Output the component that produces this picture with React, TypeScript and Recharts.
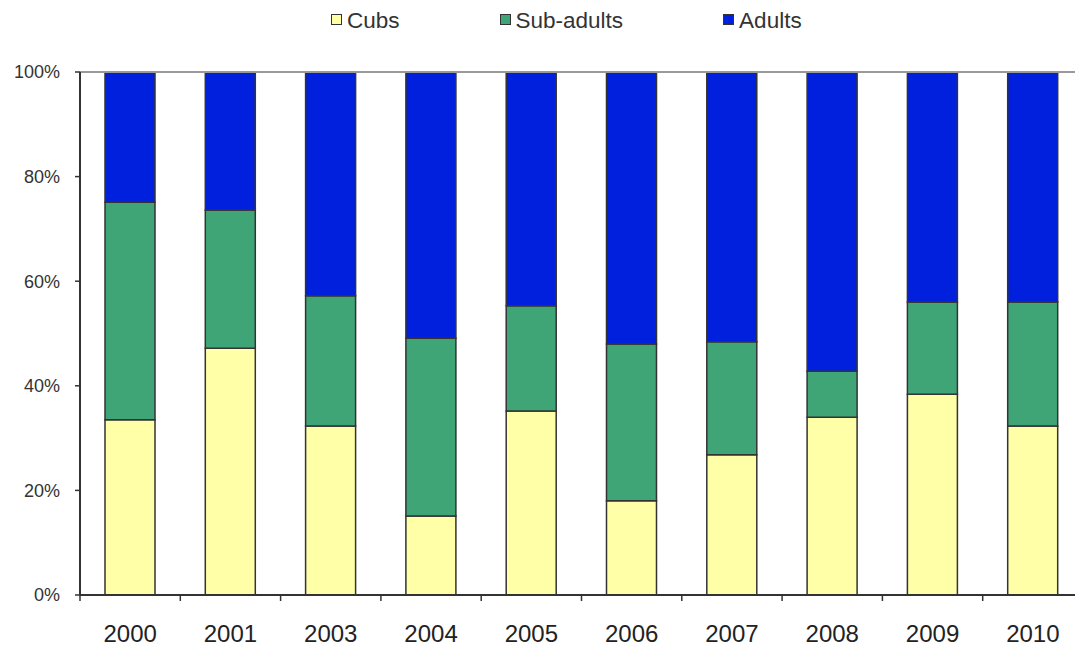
import { Bar, BarChart, ReferenceLine, XAxis, YAxis } from "recharts";

const years = ["2000", "2001", "2003", "2004", "2005", "2006", "2007", "2008", "2009", "2010"];
const cubs = [33.5, 47.2, 32.3, 15.1, 35.2, 18.0, 26.8, 34.0, 38.4, 32.3];
const subAdults = [41.6, 26.4, 24.9, 34.0, 20.1, 30.0, 21.6, 8.8, 17.6, 23.7];
const adults = [24.9, 26.4, 42.8, 50.9, 44.7, 52.0, 51.6, 57.2, 44.0, 44.0];
const yTicks = [0, 0.2, 0.4, 0.6, 0.8, 1];

const series = [
  { key: "cubs", name: "Cubs", color: "#FFFFA8" },
  { key: "subAdults", name: "Sub-adults", color: "#3FA577" },
  { key: "adults", name: "Adults", color: "#0020DD" },
];

const data = years.map((year, i) => ({
  year,
  cubs: cubs[i],
  subAdults: subAdults[i],
  adults: adults[i],
}));

const font = "'Liberation Sans', Arial, sans-serif";

// category label plus a tick mark on the left edge of its band
function YearTick(props: any) {
  const { x, y, payload } = props;
  const edge = x - (payload.offset ?? 0);
  return (
    <g>
      <line x1={edge} x2={edge} y1={y} y2={y + 6} stroke="#333" strokeWidth={1.5} />
      <text
        x={x}
        y={y + 30}
        dy="0.71em"
        textAnchor="middle"
        fontSize={24}
        fill="#222"
        fontFamily={font}
      >
        {payload.value}
      </text>
    </g>
  );
}

export default function App() {
  return (
    <div
      style={{
        position: "fixed",
        left: 0,
        top: 0,
        width: 1075,
        height: 647,
        overflow: "hidden",
        background: "#fff",
        fontFamily: font,
      }}
    >
      <div
        style={{
          position: "absolute",
          top: 8,
          left: 331,
          display: "flex",
          gap: 100,
          fontSize: 22.5,
          color: "#333",
        }}
      >
        {series.map((s) => (
          <div key={s.key} style={{ display: "flex", alignItems: "center" }}>
            <span
              style={{
                width: 9,
                height: 9,
                background: s.color,
                border: "1px solid #333",
                marginRight: 5,
                marginTop: -4,
              }}
            />
            <span>{s.name}</span>
          </div>
        ))}
      </div>
      <BarChart
        width={1090}
        height={647}
        data={data}
        stackOffset="expand"
        margin={{ top: 72, right: 7, bottom: 0, left: 0 }}
        style={{ position: "absolute", left: 0, top: 0 }}
      >
        <XAxis
          dataKey="year"
          interval={0}
          height={52}
          axisLine={{ stroke: "#333", strokeWidth: 2 }}
          tickLine={false}
          tickSize={0}
          tickMargin={0}
          tick={<YearTick />}
        />
        <YAxis
          domain={[0, 1]}
          ticks={yTicks}
          width={80}
          tickSize={5}
          tickMargin={15}
          tickFormatter={(v: number) => `${Math.round(v * 100)}%`}
          axisLine={{ stroke: "#333", strokeWidth: 2 }}
          tickLine={{ stroke: "#333", strokeWidth: 1.5 }}
          tick={{ fontSize: 18, fill: "#333", fontFamily: font }}
        />
        <ReferenceLine y={1} stroke="#999" strokeWidth={2} />
        {series.map((s) => (
          <Bar
            key={s.key}
            dataKey={s.key}
            name={s.name}
            stackId="a"
            fill={s.color}
            stroke="#333"
            strokeWidth={1.5}
            barSize={50}
            isAnimationActive={false}
          />
        ))}
      </BarChart>
    </div>
  );
}
